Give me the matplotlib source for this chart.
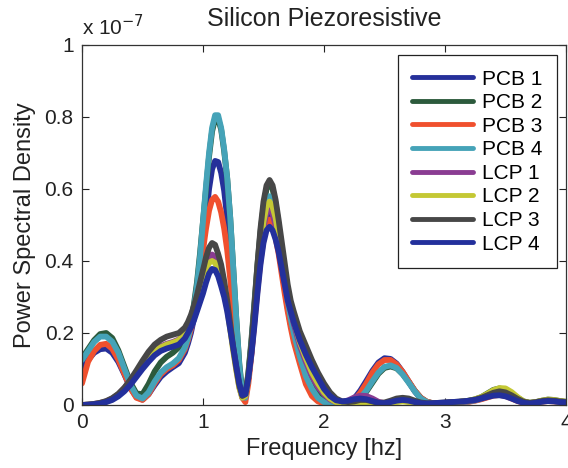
import numpy as np
import matplotlib
matplotlib.use("Agg")
import matplotlib.pyplot as plt
from matplotlib.ticker import FixedLocator, FixedFormatter

plt.rcParams['font.family'] = ['Liberation Sans', 'DejaVu Sans']

# Frequency grid [hz]: finer sampling across the two main resonance peaks
freq = np.concatenate([np.linspace(0.0, 0.85, 18),
                       np.linspace(0.875, 1.75, 36),
                       np.linspace(1.8, 4.0, 45)])

# Power spectral density, in units of 1e-7
pcb1 = [0.105, 0.125, 0.145, 0.155, 0.157, 0.145, 0.12, 0.085, 0.047, 0.022, 0.015, 0.03, 0.055, 0.078, 0.093, 0.105, 0.116, 0.145,
        0.17, 0.2, 0.24, 0.29, 0.36, 0.44, 0.52, 0.6, 0.655, 0.678, 0.675, 0.645, 0.595, 0.52, 0.43, 0.315, 0.2, 0.095,
        0.03, 0.025, 0.075, 0.15, 0.24, 0.33, 0.41, 0.47, 0.51, 0.528, 0.515, 0.485, 0.435, 0.38, 0.325, 0.27, 0.225, 0.19,
        0.13, 0.085, 0.05, 0.025,
        0.012, 0.005, 0.003, 0.004, 0.008, 0.018, 0.04, 0.067, 0.095, 0.118, 0.13, 0.128, 0.115, 0.092, 0.065, 0.038, 0.018, 0.008, 0.005, 0.005,
        0.005, 0.006, 0.007, 0.008, 0.01, 0.013, 0.017, 0.023, 0.03, 0.032, 0.028, 0.02, 0.012, 0.007, 0.005, 0.007, 0.01, 0.012, 0.011, 0.009, 0.008]
pcb2 = [0.13, 0.155, 0.18, 0.197, 0.2, 0.186, 0.152, 0.107, 0.062, 0.032, 0.03, 0.058, 0.093, 0.118, 0.134, 0.145, 0.16, 0.185,
        0.2, 0.235, 0.28, 0.34, 0.42, 0.51, 0.6, 0.69, 0.76, 0.795, 0.795, 0.765, 0.705, 0.63, 0.52, 0.38, 0.24, 0.115,
        0.035, 0.025, 0.09, 0.18, 0.285, 0.39, 0.48, 0.55, 0.6, 0.615, 0.6, 0.56, 0.5, 0.43, 0.365, 0.3, 0.25, 0.205,
        0.14, 0.093, 0.058, 0.032,
        0.015, 0.007, 0.003, 0.002, 0.003, 0.007, 0.018, 0.037, 0.062, 0.087, 0.103, 0.107, 0.102, 0.086, 0.064, 0.04, 0.02, 0.009, 0.005, 0.005,
        0.006, 0.007, 0.008, 0.01, 0.012, 0.016, 0.022, 0.032, 0.042, 0.046, 0.042, 0.032, 0.02, 0.01, 0.006, 0.008, 0.012, 0.015, 0.014, 0.011, 0.009]
pcb3 = [0.06, 0.12, 0.15, 0.167, 0.17, 0.156, 0.126, 0.087, 0.047, 0.02, 0.014, 0.03, 0.06, 0.085, 0.1, 0.11, 0.125, 0.155,
        0.18, 0.21, 0.25, 0.3, 0.36, 0.43, 0.49, 0.54, 0.57, 0.578, 0.565, 0.535, 0.49, 0.43, 0.35, 0.26, 0.17, 0.085,
        0.02, 0.008, 0.06, 0.14, 0.23, 0.32, 0.4, 0.46, 0.5, 0.515, 0.5, 0.465, 0.42, 0.365, 0.31, 0.26, 0.215, 0.175,
        0.115, 0.058, 0.025, 0.01,
        0.004, 0.002, 0.002, 0.003, 0.006, 0.014, 0.034, 0.06, 0.09, 0.113, 0.125, 0.125, 0.113, 0.092, 0.066, 0.04, 0.02, 0.009, 0.005, 0.004,
        0.005, 0.005, 0.006, 0.007, 0.009, 0.012, 0.016, 0.021, 0.026, 0.028, 0.025, 0.018, 0.011, 0.006, 0.004, 0.006, 0.009, 0.011, 0.01, 0.008, 0.007]
pcb4 = [0.125, 0.15, 0.175, 0.19, 0.19, 0.176, 0.146, 0.101, 0.056, 0.026, 0.018, 0.035, 0.065, 0.09, 0.105, 0.115, 0.13, 0.16,
        0.185, 0.22, 0.27, 0.33, 0.41, 0.51, 0.61, 0.7, 0.77, 0.805, 0.805, 0.77, 0.71, 0.63, 0.52, 0.38, 0.24, 0.11,
        0.025, 0.02, 0.08, 0.17, 0.27, 0.37, 0.455, 0.52, 0.565, 0.58, 0.565, 0.525, 0.47, 0.41, 0.35, 0.29, 0.24, 0.2,
        0.135, 0.08, 0.045, 0.02,
        0.008, 0.004, 0.002, 0.002, 0.004, 0.008, 0.02, 0.04, 0.066, 0.09, 0.106, 0.11, 0.103, 0.085, 0.062, 0.038, 0.018, 0.008, 0.004, 0.004,
        0.005, 0.006, 0.007, 0.008, 0.01, 0.013, 0.018, 0.025, 0.031, 0.034, 0.031, 0.023, 0.014, 0.008, 0.005, 0.007, 0.01, 0.012, 0.011, 0.009, 0.008]
lcp1 = [0.0, 0.001, 0.003, 0.006, 0.01, 0.018, 0.03, 0.047, 0.068, 0.092, 0.115, 0.136, 0.152, 0.163, 0.17, 0.175, 0.182, 0.2,
        0.215, 0.24, 0.265, 0.3, 0.33, 0.36, 0.39, 0.41, 0.418, 0.41, 0.39, 0.36, 0.32, 0.275, 0.215, 0.155, 0.1, 0.05,
        0.02, 0.025, 0.075, 0.145, 0.24, 0.34, 0.425, 0.495, 0.535, 0.545, 0.53, 0.5, 0.455, 0.4, 0.35, 0.3, 0.26, 0.225,
        0.165, 0.12, 0.08, 0.05,
        0.03, 0.015, 0.008, 0.008, 0.013, 0.021, 0.026, 0.025, 0.018, 0.009, 0.005, 0.007, 0.01, 0.012, 0.01, 0.007, 0.004, 0.003, 0.004, 0.005,
        0.006, 0.007, 0.008, 0.009, 0.011, 0.014, 0.019, 0.026, 0.033, 0.037, 0.035, 0.027, 0.016, 0.008, 0.005, 0.007, 0.011, 0.013, 0.012, 0.01, 0.008]
lcp2 = [0.0, 0.001, 0.002, 0.005, 0.009, 0.016, 0.027, 0.042, 0.062, 0.085, 0.108, 0.13, 0.148, 0.16, 0.168, 0.173, 0.18, 0.2,
        0.215, 0.24, 0.265, 0.3, 0.325, 0.35, 0.378, 0.395, 0.4, 0.395, 0.375, 0.35, 0.31, 0.268, 0.21, 0.15, 0.097, 0.048,
        0.02, 0.025, 0.078, 0.15, 0.25, 0.35, 0.44, 0.51, 0.553, 0.565, 0.55, 0.52, 0.47, 0.415, 0.36, 0.31, 0.27, 0.235,
        0.175, 0.13, 0.09, 0.06,
        0.035, 0.018, 0.008, 0.004, 0.004, 0.006, 0.008, 0.007, 0.004, 0.002, 0.003, 0.005, 0.008, 0.01, 0.008, 0.005, 0.003, 0.003, 0.004, 0.005,
        0.006, 0.007, 0.008, 0.01, 0.012, 0.016, 0.022, 0.031, 0.041, 0.047, 0.046, 0.036, 0.022, 0.01, 0.006, 0.008, 0.012, 0.015, 0.014, 0.011, 0.009]
lcp3 = [0.0, 0.001, 0.003, 0.006, 0.011, 0.019, 0.031, 0.048, 0.07, 0.096, 0.123, 0.148, 0.168, 0.181, 0.19, 0.195, 0.2, 0.215,
        0.23, 0.25, 0.275, 0.305, 0.34, 0.375, 0.41, 0.437, 0.45, 0.445, 0.42, 0.39, 0.345, 0.29, 0.225, 0.16, 0.105, 0.055,
        0.025, 0.03, 0.085, 0.17, 0.275, 0.39, 0.49, 0.565, 0.61, 0.625, 0.61, 0.57, 0.515, 0.455, 0.395, 0.335, 0.29, 0.26,
        0.205, 0.165, 0.125, 0.09,
        0.06, 0.035, 0.018, 0.01, 0.008, 0.01, 0.014, 0.014, 0.01, 0.006, 0.007, 0.012, 0.018, 0.02, 0.018, 0.012, 0.007, 0.005, 0.005, 0.006,
        0.007, 0.008, 0.009, 0.01, 0.012, 0.015, 0.02, 0.027, 0.034, 0.038, 0.035, 0.027, 0.017, 0.009, 0.006, 0.008, 0.011, 0.013, 0.012, 0.01, 0.008]
lcp4 = [0.0, 0.001, 0.002, 0.004, 0.008, 0.014, 0.024, 0.038, 0.056, 0.078, 0.1, 0.12, 0.138, 0.15, 0.157, 0.162, 0.168, 0.185,
        0.2, 0.215, 0.235, 0.26, 0.285, 0.31, 0.34, 0.365, 0.378, 0.375, 0.358, 0.33, 0.3, 0.26, 0.21, 0.16, 0.108, 0.06,
        0.028, 0.03, 0.075, 0.14, 0.22, 0.31, 0.39, 0.45, 0.485, 0.495, 0.485, 0.46, 0.425, 0.38, 0.335, 0.29, 0.26, 0.23,
        0.18, 0.14, 0.105, 0.075,
        0.045, 0.025, 0.013, 0.01, 0.012, 0.016, 0.018, 0.016, 0.011, 0.006, 0.005, 0.008, 0.012, 0.014, 0.012, 0.008, 0.005, 0.004, 0.005, 0.006,
        0.007, 0.008, 0.009, 0.01, 0.012, 0.014, 0.018, 0.022, 0.026, 0.027, 0.024, 0.018, 0.011, 0.006, 0.004, 0.006, 0.009, 0.011, 0.01, 0.008, 0.007]

series = [pcb1, pcb2, pcb3, pcb4, lcp1, lcp2, lcp3, lcp4]
labels = ['PCB 1', 'PCB 2', 'PCB 3', 'PCB 4', 'LCP 1', 'LCP 2', 'LCP 3', 'LCP 4']
colors = ['#26309a', '#2c5a3c', '#f0502e', '#45a3b8', '#8a3c92', '#c4c834', '#474747', '#23309c']

x_ticks = [0, 1, 2, 3, 4]
y_ticks = [0, 0.2, 0.4, 0.6, 0.8, 1.0]
y_tick_labels = ['0', '0.2', '0.4', '0.6', '0.8', '1']

fig = plt.figure(figsize=(5.68, 4.68), dpi=100)
ax = fig.add_axes([82 / 568, 1 - 405 / 468, (566 - 82) / 568, (405 - 45) / 468])

for vals, lab, col in zip(series, labels, colors):
    ax.plot(freq, vals, color=col, lw=4.2, label=lab, solid_capstyle='round',
            solid_joinstyle='round')

ax.set_xlim(0, 4)
ax.set_ylim(0, 1)
ax.xaxis.set_major_locator(FixedLocator(x_ticks))
ax.yaxis.set_major_locator(FixedLocator(y_ticks))
ax.yaxis.set_major_formatter(FixedFormatter(y_tick_labels))
ax.tick_params(direction='in', length=5, width=0.8, top=True, right=True,
               labelsize=15, colors='#222222', pad=6)
for sp in ax.spines.values():
    sp.set_color('#333333')
    sp.set_linewidth(0.9)

ax.set_xlabel('Frequency [hz]', fontsize=17, color='#222222', labelpad=4)
ax.set_ylabel('Power Spectral Density', fontsize=17, color='#222222', labelpad=6)
ax.set_title('Silicon Piezoresistive', fontsize=18, color='#222222', pad=14)
ax.text(0.0, 1.015, r'x 10$^{-7}$', transform=ax.transAxes, fontsize=15,
        color='#222222', ha='left', va='bottom')

leg = ax.legend(loc='upper right', bbox_to_anchor=(557 / 568, 1 - 55 / 468),
                bbox_transform=fig.transFigure, fontsize=15, frameon=True,
                fancybox=False, edgecolor='#222222', framealpha=1,
                handlelength=2.9, handletextpad=0.45, labelspacing=0.22,
                borderpad=0.7, borderaxespad=0)
leg.get_frame().set_linewidth(0.9)
for ln in leg.get_lines():
    ln.set_linewidth(3.5)

fig.savefig('out.png', dpi=100)
